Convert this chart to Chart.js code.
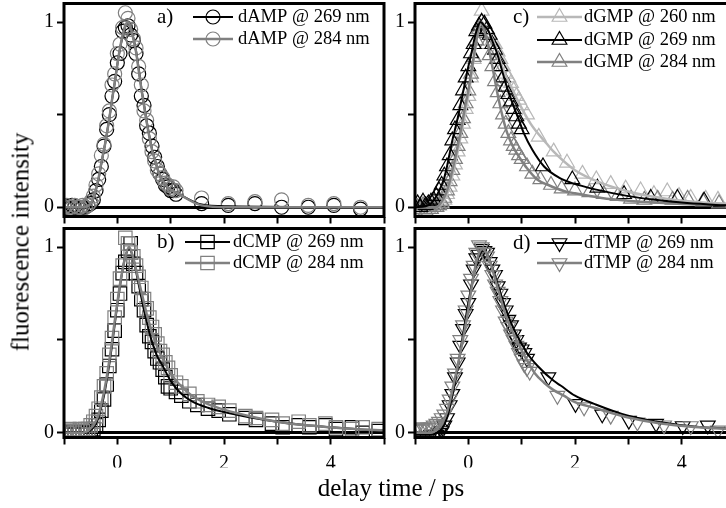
<!DOCTYPE html>
<html>
<head>
<meta charset="utf-8">
<script src="https://cdn.jsdelivr.net/npm/chart.js@4.4.0/dist/chart.umd.min.js"></script>
<style>
html, body { margin: 0; padding: 0; background: #fff; }
#wrap { position: relative; width: 726px; height: 508px; overflow: hidden; font-family: 'Liberation Serif', 'Times New Roman', serif; }
#wrap canvas { position: absolute; left: 0; top: 0; }
.titulo { position: absolute; font-size: 25px; line-height: 25px; color: #000; white-space: nowrap; }
#tituloX { left: 391px; top: 475px; transform: translateX(-50%); }
#tituloY { left: 20px; top: 242px; transform: translate(-50%, -50%) rotate(-90deg); }
</style>
</head>
<body>
<div id="wrap">
  <canvas id="panelA" width="760" height="508"></canvas>
  <canvas id="panelB" width="760" height="508"></canvas>
  <canvas id="panelC" width="760" height="508"></canvas>
  <canvas id="panelD" width="760" height="508"></canvas>
  <div class="titulo" id="tituloX">delay time / ps</div>
  <div class="titulo" id="tituloY">fluorescence intensity</div>
</div>
<script>
//EJES
const xTicks = [-1, 0, 1, 2, 3, 4, 5]
const xLabels = [0, 2, 4]
const yTicks = [0, 0.5, 1]
const yLabels = [0, 1]

//PANEL A - dAMP
const tA = [-1.0, -0.95, -0.9, -0.85, -0.8, -0.75, -0.7, -0.65, -0.6, -0.55, -0.5, -0.45, -0.4, -0.35, -0.3, -0.25, -0.2, -0.15, -0.1, -0.05, 0, 0.05, 0.1, 0.15, 0.2, 0.25, 0.3, 0.35, 0.4, 0.45, 0.5, 0.55, 0.6, 0.65, 0.7, 0.75, 0.8, 0.85, 0.9, 0.95, 1.0, 1.05, 1.1, 1.58, 2.08, 2.58, 3.08, 3.58, 4.06, 4.56]
const dAMP269 = [0.01, 0, -0.01, 0.01, 0, 0, -0.01, 0, 0, 0.01, 0.02, 0.04, 0.09, 0.15, 0.22, 0.33, 0.42, 0.5, 0.6, 0.68, 0.78, 0.83, 0.95, 0.97, 0.98, 0.93, 0.9, 0.83, 0.72, 0.6, 0.55, 0.44, 0.4, 0.33, 0.27, 0.22, 0.18, 0.15, 0.12, 0.11, 0.09, 0.09, 0.07, 0.02, 0.01, 0.02, 0, 0, 0.01, -0.01]
const dAMP284 = [0, 0.01, 0, 0, 0.01, 0, 0, 0.01, 0, 0.01, 0.03, 0.06, 0.12, 0.18, 0.28, 0.34, 0.44, 0.52, 0.66, 0.72, 0.83, 0.88, 0.97, 1.05, 1.02, 0.96, 0.91, 0.86, 0.76, 0.66, 0.52, 0.47, 0.37, 0.3, 0.25, 0.2, 0.18, 0.16, 0.13, 0.12, 0.1, 0.11, 0.09, 0.05, 0.02, 0.03, 0.04, 0.01, 0.02, 0]
const ajusteTA = [-1, -0.6, -0.55, -0.5, -0.45, -0.4, -0.35, -0.3, -0.25, -0.2, -0.15, -0.1, -0.05, 0, 0.05, 0.1, 0.15, 0.2, 0.25, 0.3, 0.35, 0.4, 0.45, 0.5, 0.55, 0.6, 0.65, 0.7, 0.75, 0.8, 0.85, 0.9, 0.95, 1.0, 1.1, 1.58, 2.08, 5]
const ajusteAMP269 = [0, 0, 0.004, 0.018, 0.045, 0.095, 0.155, 0.235, 0.31, 0.39, 0.48, 0.58, 0.67, 0.77, 0.855, 0.925, 0.975, 0.995, 0.97, 0.915, 0.845, 0.75, 0.645, 0.555, 0.465, 0.385, 0.315, 0.26, 0.21, 0.17, 0.145, 0.125, 0.105, 0.095, 0.08, 0.015, 0.005, 0]
const ajusteAMP284 = [0, 0, 0.005, 0.02, 0.05, 0.1, 0.16, 0.24, 0.31, 0.39, 0.48, 0.58, 0.67, 0.77, 0.86, 0.93, 0.98, 1.0, 0.97, 0.91, 0.84, 0.74, 0.64, 0.55, 0.46, 0.38, 0.31, 0.26, 0.21, 0.17, 0.145, 0.125, 0.105, 0.095, 0.08, 0.01, 0, 0]

//PANEL B - dCMP
const tB = [-1.0, -0.95, -0.9, -0.85, -0.8, -0.75, -0.7, -0.65, -0.6, -0.55, -0.5, -0.45, -0.4, -0.35, -0.3, -0.25, -0.2, -0.15, -0.1, -0.05, 0, 0.05, 0.1, 0.15, 0.2, 0.25, 0.3, 0.35, 0.4, 0.45, 0.5, 0.55, 0.6, 0.65, 0.7, 0.75, 0.8, 0.85, 0.9, 0.95, 1.0, 1.1, 1.2, 1.35, 1.5, 1.7, 1.9, 2.1, 2.4, 2.6, 2.9, 3.1, 3.4, 3.6, 3.9, 4.1, 4.4, 4.6, 4.9]
const dCMP269 = [0, -0.01, 0.01, 0, -0.01, 0, 0.01, -0.01, 0, 0, 0.01, 0.02, 0.04, 0.07, 0.12, 0.18, 0.26, 0.36, 0.45, 0.55, 0.66, 0.75, 0.86, 0.92, 0.98, 1.02, 0.91, 0.86, 0.79, 0.72, 0.66, 0.58, 0.52, 0.49, 0.44, 0.4, 0.38, 0.34, 0.3, 0.25, 0.24, 0.22, 0.2, 0.17, 0.15, 0.13, 0.12, 0.1, 0.08, 0.07, 0.05, 0.03, 0.04, 0.03, 0.04, 0.02, 0.03, 0, 0.01]
const dCMP284 = [0.01, 0, 0.02, 0.01, 0, 0.01, 0.02, 0.01, 0.02, 0.02, 0.04, 0.06, 0.09, 0.13, 0.19, 0.25, 0.32, 0.42, 0.51, 0.62, 0.72, 0.83, 0.9, 1.05, 1.02, 0.97, 0.95, 0.9, 0.84, 0.78, 0.72, 0.67, 0.62, 0.57, 0.53, 0.48, 0.44, 0.42, 0.38, 0.35, 0.31, 0.27, 0.25, 0.21, 0.17, 0.15, 0.14, 0.12, 0.09, 0.08, 0.07, 0.05, 0.06, 0.04, 0.05, 0.03, 0.02, 0.03, 0.02]
const ajusteTB = [-1, -0.65, -0.6, -0.55, -0.5, -0.45, -0.4, -0.35, -0.3, -0.25, -0.2, -0.15, -0.1, -0.05, 0, 0.05, 0.1, 0.15, 0.22, 0.3, 0.35, 0.4, 0.45, 0.5, 0.55, 0.6, 0.65, 0.7, 0.75, 0.8, 0.85, 1.0, 1.2, 1.4, 1.7, 2.0, 2.5, 3, 3.5, 4, 4.5, 5]
const ajusteCMP269 = [0, 0, 0.002, 0.006, 0.015, 0.03, 0.05, 0.085, 0.14, 0.2, 0.28, 0.37, 0.47, 0.58, 0.69, 0.79, 0.88, 0.95, 0.99, 0.94, 0.87, 0.8, 0.73, 0.66, 0.6, 0.54, 0.49, 0.45, 0.41, 0.385, 0.36, 0.28, 0.21, 0.17, 0.135, 0.112, 0.083, 0.06, 0.042, 0.03, 0.02, 0.013]
const ajusteCMP284 = [0, 0, 0.005, 0.01, 0.025, 0.04, 0.065, 0.1, 0.155, 0.22, 0.3, 0.39, 0.49, 0.6, 0.7, 0.8, 0.88, 0.95, 1.0, 0.94, 0.88, 0.82, 0.76, 0.7, 0.64, 0.59, 0.54, 0.5, 0.46, 0.43, 0.4, 0.32, 0.25, 0.2, 0.155, 0.125, 0.088, 0.06, 0.042, 0.03, 0.02, 0.014]

//PANEL C - dGMP
const tC260 = [-1.0, -0.95, -0.9, -0.85, -0.8, -0.75, -0.7, -0.65, -0.6, -0.55, -0.5, -0.45, -0.4, -0.35, -0.3, -0.25, -0.2, -0.15, -0.1, -0.05, 0, 0.05, 0.1, 0.15, 0.2, 0.25, 0.3, 0.35, 0.4, 0.45, 0.5, 0.55, 0.6, 0.65, 0.7, 0.75, 0.8, 0.85, 0.9, 0.95, 1.0, 1.1, 1.32, 1.6, 1.85, 2.14, 2.4, 2.67, 2.95, 3.23, 3.48, 3.73, 3.95, 4.17, 4.45, 4.68]
const dGMP260 = [0, -0.01, 0.01, 0, 0.01, -0.01, 0, 0.01, 0, 0.01, 0.02, 0.04, 0.07, 0.11, 0.17, 0.23, 0.3, 0.37, 0.45, 0.53, 0.6, 0.7, 0.8, 0.9, 0.97, 1.06, 0.99, 0.96, 0.93, 0.9, 0.88, 0.84, 0.8, 0.76, 0.72, 0.7, 0.67, 0.63, 0.6, 0.58, 0.55, 0.5, 0.38, 0.3, 0.24, 0.18, 0.15, 0.125, 0.1, 0.09, 0.07, 0.085, 0.06, 0.05, 0.045, 0.04]
const tC269 = [-1.0, -0.95, -0.9, -0.85, -0.8, -0.75, -0.7, -0.65, -0.6, -0.55, -0.5, -0.45, -0.4, -0.35, -0.3, -0.25, -0.2, -0.15, -0.1, -0.05, 0, 0.05, 0.1, 0.15, 0.2, 0.25, 0.3, 0.35, 0.4, 0.45, 0.5, 0.55, 0.6, 0.65, 0.7, 0.75, 0.8, 0.85, 0.9, 0.95, 1.0, 1.4, 1.95, 2.42, 2.92, 3.42, 3.92, 4.42]
const dGMP269 = [0, 0.02, 0, 0.03, 0.01, 0.02, 0.03, 0.04, 0.06, 0.09, 0.12, 0.17, 0.22, 0.28, 0.36, 0.42, 0.47, 0.55, 0.63, 0.7, 0.76, 0.83, 0.88, 0.95, 0.98, 1.0, 0.99, 0.96, 0.93, 0.88, 0.85, 0.8, 0.76, 0.7, 0.65, 0.61, 0.57, 0.53, 0.49, 0.45, 0.42, 0.22, 0.15, 0.105, 0.07, 0.05, 0.05, 0.035]
const tC284 = [-1.0, -0.95, -0.9, -0.85, -0.8, -0.75, -0.7, -0.65, -0.6, -0.55, -0.5, -0.45, -0.4, -0.35, -0.3, -0.25, -0.2, -0.15, -0.1, -0.05, 0, 0.05, 0.1, 0.15, 0.2, 0.25, 0.3, 0.35, 0.4, 0.45, 0.5, 0.55, 0.6, 0.65, 0.7, 0.75, 0.8, 0.85, 0.9, 0.95, 1.0, 1.1, 1.2, 1.35, 1.55, 1.75, 2.0, 2.27, 2.54, 2.8, 3.05, 3.3, 3.55, 3.83, 4.11, 4.4, 4.7]
const dGMP284 = [-0.02, 0, -0.01, 0.01, -0.02, 0, -0.01, 0, 0, 0.01, 0.03, 0.05, 0.09, 0.14, 0.2, 0.26, 0.33, 0.4, 0.48, 0.56, 0.63, 0.72, 0.81, 0.9, 0.96, 1.0, 0.94, 0.88, 0.82, 0.76, 0.68, 0.62, 0.56, 0.5, 0.45, 0.4, 0.36, 0.33, 0.31, 0.28, 0.26, 0.22, 0.18, 0.15, 0.12, 0.1, 0.09, 0.08, 0.07, 0.06, 0.045, 0.04, 0.045, 0.04, 0.045, 0.03, 0.02]
const ajusteTC260 = [-1, -0.6, -0.5, -0.4, -0.3, -0.2, -0.1, 0, 0.1, 0.2, 0.25, 0.35, 0.48, 0.66, 0.79, 0.92, 1.17, 1.48, 1.6, 2.0, 2.5, 3.0, 3.5, 4.0, 5]
const ajusteGMP260 = [0, 0, 0.02, 0.07, 0.17, 0.3, 0.45, 0.6, 0.8, 0.97, 1.0, 0.96, 0.89, 0.74, 0.66, 0.58, 0.45, 0.34, 0.3, 0.2, 0.13, 0.085, 0.055, 0.035, 0.015]
const ajusteTC269 = [-1, -0.8, -0.7, -0.6, -0.5, -0.45, -0.4, -0.35, -0.3, -0.25, -0.2, -0.15, -0.1, -0.05, 0, 0.05, 0.1, 0.15, 0.23, 0.3, 0.38, 0.46, 0.54, 0.62, 0.7, 0.78, 0.85, 0.95, 1.04, 1.2, 1.42, 1.7, 1.95, 2.4, 3, 3.5, 4, 4.5, 5]
const ajusteGMP269 = [0, 0.005, 0.02, 0.06, 0.12, 0.16, 0.22, 0.29, 0.36, 0.42, 0.48, 0.55, 0.62, 0.69, 0.76, 0.82, 0.89, 0.95, 1.0, 0.98, 0.95, 0.89, 0.83, 0.75, 0.67, 0.6, 0.545, 0.47, 0.4, 0.31, 0.22, 0.16, 0.13, 0.095, 0.06, 0.04, 0.025, 0.015, 0.008]
const ajusteTC284 = [-1, -0.6, -0.55, -0.5, -0.45, -0.4, -0.35, -0.3, -0.25, -0.2, -0.15, -0.1, -0.05, 0, 0.05, 0.1, 0.15, 0.23, 0.3, 0.35, 0.45, 0.57, 0.65, 0.73, 0.85, 0.98, 1.1, 1.29, 1.5, 1.79, 2, 2.5, 3, 3.5, 4, 5]
const ajusteGMP284 = [0, 0, 0.01, 0.03, 0.055, 0.09, 0.14, 0.2, 0.26, 0.33, 0.4, 0.48, 0.56, 0.63, 0.72, 0.81, 0.9, 1.0, 0.95, 0.9, 0.76, 0.58, 0.48, 0.4, 0.32, 0.26, 0.21, 0.15, 0.12, 0.088, 0.075, 0.05, 0.035, 0.025, 0.018, 0.01]

//PANEL D - dTMP
const tD269 = [-1.0, -0.95, -0.9, -0.85, -0.8, -0.75, -0.7, -0.65, -0.6, -0.55, -0.5, -0.45, -0.4, -0.35, -0.3, -0.25, -0.2, -0.15, -0.1, -0.05, 0, 0.05, 0.1, 0.15, 0.2, 0.25, 0.3, 0.35, 0.4, 0.45, 0.5, 0.55, 0.6, 0.65, 0.7, 0.75, 0.8, 0.85, 0.9, 0.95, 1.0, 1.05, 1.1, 1.5, 2.01, 2.51, 3.01, 3.52, 4.02, 4.49]
const dTMP269 = [-0.02, -0.03, -0.02, -0.03, -0.02, -0.02, -0.01, -0.02, -0.01, 0, 0.01, 0.04, 0.08, 0.15, 0.21, 0.3, 0.38, 0.47, 0.56, 0.64, 0.7, 0.8, 0.88, 0.94, 0.96, 0.99, 0.98, 0.97, 0.92, 0.88, 0.85, 0.79, 0.75, 0.7, 0.66, 0.61, 0.58, 0.53, 0.5, 0.46, 0.45, 0.43, 0.4, 0.3, 0.156, 0.1, 0.066, 0.05, 0.037, 0.04]
const tD284 = [-1.0, -0.95, -0.9, -0.85, -0.8, -0.75, -0.7, -0.65, -0.6, -0.55, -0.5, -0.45, -0.4, -0.35, -0.3, -0.25, -0.2, -0.15, -0.1, -0.05, 0, 0.05, 0.1, 0.15, 0.2, 0.25, 0.3, 0.35, 0.4, 0.45, 0.5, 0.55, 0.6, 0.65, 0.7, 0.75, 0.8, 0.85, 0.9, 0.95, 1.0, 1.05, 1.1, 1.15, 1.67, 2.17, 2.67, 3.17, 3.67, 4.17, 4.68]
const dTMP284 = [0.02, 0.03, 0.02, 0.03, 0.02, 0.03, 0.03, 0.04, 0.05, 0.06, 0.08, 0.1, 0.13, 0.18, 0.25, 0.32, 0.4, 0.5, 0.58, 0.66, 0.74, 0.83, 0.9, 0.97, 1.01, 1.0, 0.97, 0.95, 0.9, 0.85, 0.8, 0.76, 0.71, 0.66, 0.6, 0.57, 0.53, 0.5, 0.47, 0.43, 0.4, 0.37, 0.35, 0.33, 0.2, 0.138, 0.093, 0.057, 0.041, 0.037, 0.013]
const ajusteTD269 = [-1, -0.7, -0.6, -0.5, -0.4, -0.3, -0.2, -0.1, 0, 0.1, 0.2, 0.27, 0.35, 0.45, 0.55, 0.65, 0.75, 0.85, 1.0, 1.1, 1.3, 1.6, 1.73, 2.0, 2.36, 2.98, 3.61, 4.23, 5]
const ajusteTMP269 = [-0.01, -0.01, 0, 0.02, 0.08, 0.2, 0.35, 0.53, 0.7, 0.85, 0.95, 0.98, 0.96, 0.89, 0.8, 0.71, 0.63, 0.56, 0.48, 0.43, 0.36, 0.28, 0.255, 0.2, 0.156, 0.093, 0.057, 0.034, 0.02]
const ajusteTD284 = [-1, -0.7, -0.6, -0.53, -0.4, -0.28, -0.15, -0.02, 0.1, 0.18, 0.26, 0.33, 0.41, 0.49, 0.57, 0.65, 0.73, 0.82, 0.92, 1.1, 1.25, 1.42, 1.6, 1.79, 2.0, 2.36, 2.98, 3.61, 4.23, 5]
const ajusteTMP284 = [0, 0, 0.015, 0.04, 0.11, 0.255, 0.43, 0.63, 0.85, 0.95, 0.99, 0.97, 0.92, 0.84, 0.76, 0.68, 0.61, 0.55, 0.49, 0.39, 0.32, 0.27, 0.23, 0.2, 0.165, 0.135, 0.084, 0.05, 0.032, 0.02]

//COLORES
const negro = '#000000'
const gris = '#808080'
const grisClaro = '#b8b8b8'

Chart.defaults.font.family = "'Liberation Serif', 'Times New Roman', serif"
Chart.defaults.color = '#000'

function puntos(t, y) {
    return t.map((x, i) => ({ x: x, y: y[i] }))
}

//DIBUJA CAJA, LETRA Y LEYENDA
const decoracion = {
    id: 'decoracion',
    afterDatasetsDraw(chart, args, opts) {
        const ctx = chart.ctx
        const a = chart.chartArea
        ctx.save()
        ctx.lineWidth = 3
        ctx.strokeStyle = '#000'
        ctx.strokeRect(a.left, a.top, a.right - a.left, a.bottom - a.top)

        ctx.textBaseline = 'middle'
        ctx.textAlign = 'left'
        ctx.fillStyle = '#000'
        ctx.font = "21px 'Liberation Serif', serif"
        ctx.fillText(opts.letra, opts.letraX, opts.filas[0])

        ctx.font = "18.5px 'Liberation Serif', serif"
        opts.series.forEach((s, i) => {
            const y = opts.filas[i]
            ctx.lineWidth = s.ancho
            ctx.strokeStyle = s.color
            ctx.beginPath()
            ctx.moveTo(opts.x0, y)
            ctx.lineTo(opts.x1, y)
            ctx.stroke()
            ctx.lineWidth = 1.2
            ctx.fillStyle = 'rgba(0,0,0,0)'
            Chart.helpers.drawPoint(ctx, { pointStyle: s.estilo, rotation: s.rotacion, radius: s.radio, borderWidth: 1.2 }, (opts.x0 + opts.x1) / 2, y)
            ctx.fillStyle = '#000'
            ctx.fillText(s.label, opts.tx, y)
        })
        ctx.restore()
    }
}

function crearPanel(id, panel) {
    const datasets = []
    panel.series.forEach((s) => {
        datasets.push({
            label: s.label + ' ajuste',
            data: puntos(s.ajusteT, s.ajusteY),
            showLine: true,
            pointRadius: 0,
            borderColor: s.color,
            borderWidth: s.ancho,
            cubicInterpolationMode: 'monotone',
            order: s.capa
        })
        datasets.push({
            label: s.label,
            data: puntos(s.t, s.y),
            showLine: false,
            pointStyle: s.estilo,
            rotation: s.rotacion,
            pointRadius: s.radio,
            pointBorderColor: s.color,
            pointBackgroundColor: 'rgba(0,0,0,0)',
            pointBorderWidth: 1.2,
            order: 10 + s.capa
        })
    })

    const config = {
        type: 'scatter',
        data: { datasets: datasets },
        options: {
            responsive: false,
            animation: false,
            devicePixelRatio: 1,
            events: [],
            layout: {
                autoPadding: false,
                padding: {
                    left: panel.izq - 30,
                    right: 760 - panel.der,
                    top: panel.arriba,
                    bottom: 508 - panel.abajo - 30
                }
            },
            scales: {
                x: {
                    type: 'linear',
                    min: -1,
                    max: 5,
                    afterBuildTicks: (s) => { s.ticks = xTicks.map(v => ({ value: v })) },
                    afterFit: (s) => { s.height = 30; s.paddingLeft = 0; s.paddingRight = 0 },
                    ticks: {
                        autoSkip: false,
                        maxRotation: 0,
                        padding: 7,
                        font: { size: 20 },
                        callback: (v) => (panel.etiquetasX && xLabels.includes(v)) ? String(v) : ''
                    },
                    grid: { drawOnChartArea: false, tickLength: 7, tickWidth: 2, tickColor: '#000' },
                    border: { display: false }
                },
                y: {
                    type: 'linear',
                    min: panel.yMin,
                    max: 1.1,
                    afterBuildTicks: (s) => { s.ticks = yTicks.map(v => ({ value: v })) },
                    afterFit: (s) => { s.width = 30; s.paddingTop = 0; s.paddingBottom = 0 },
                    ticks: {
                        padding: 3,
                        font: { size: 20 },
                        callback: (v) => yLabels.includes(v) ? String(v) : ''
                    },
                    grid: {
                        color: (c) => (c.tick && c.tick.value === 0) ? '#000' : 'rgba(0,0,0,0)',
                        lineWidth: (c) => (c.tick && c.tick.value === 0) ? 3 : 1,
                        tickLength: 7,
                        tickWidth: 2,
                        tickColor: '#000'
                    },
                    border: { display: false }
                }
            },
            plugins: {
                legend: { display: false },
                tooltip: { enabled: false },
                decoracion: panel.leyenda
            }
        },
        plugins: [decoracion]
    }
    return new Chart(document.getElementById(id), config)
}

const circulo = { estilo: 'circle', rotacion: 0, radio: 7 }
const cuadro = { estilo: 'rect', rotacion: 0, radio: 9.5 }
const triArriba = { estilo: 'triangle', rotacion: 0, radio: 8.5 }
const triAbajo = { estilo: 'triangle', rotacion: 180, radio: 8.5 }

const serieAMP269 = { label: 'dAMP @ 269 nm', t: tA, y: dAMP269, ajusteT: ajusteTA, ajusteY: ajusteAMP269, color: negro, ancho: 2, capa: 1, ...circulo }
const serieAMP284 = { label: 'dAMP @ 284 nm', t: tA, y: dAMP284, ajusteT: ajusteTA, ajusteY: ajusteAMP284, color: gris, ancho: 2.5, capa: 0, ...circulo }
const serieCMP269 = { label: 'dCMP @ 269 nm', t: tB, y: dCMP269, ajusteT: ajusteTB, ajusteY: ajusteCMP269, color: negro, ancho: 2, capa: 1, ...cuadro }
const serieCMP284 = { label: 'dCMP @ 284 nm', t: tB, y: dCMP284, ajusteT: ajusteTB, ajusteY: ajusteCMP284, color: gris, ancho: 2.5, capa: 0, ...cuadro }
const serieGMP260 = { label: 'dGMP @ 260 nm', t: tC260, y: dGMP260, ajusteT: ajusteTC260, ajusteY: ajusteGMP260, color: grisClaro, ancho: 2.5, capa: 2, ...triArriba }
const serieGMP269 = { label: 'dGMP @ 269 nm', t: tC269, y: dGMP269, ajusteT: ajusteTC269, ajusteY: ajusteGMP269, color: negro, ancho: 2, capa: 0, ...triArriba }
const serieGMP284 = { label: 'dGMP @ 284 nm', t: tC284, y: dGMP284, ajusteT: ajusteTC284, ajusteY: ajusteGMP284, color: gris, ancho: 2.5, capa: 1, ...triArriba }
const serieTMP269 = { label: 'dTMP @ 269 nm', t: tD269, y: dTMP269, ajusteT: ajusteTD269, ajusteY: ajusteTMP269, color: negro, ancho: 2, capa: 1, ...triAbajo }
const serieTMP284 = { label: 'dTMP @ 284 nm', t: tD284, y: dTMP284, ajusteT: ajusteTD284, ajusteY: ajusteTMP284, color: gris, ancho: 2.5, capa: 0, ...triAbajo }

crearPanel('panelA', {
    izq: 64, der: 384, arriba: 3.5, abajo: 216.5, yMin: -0.05, etiquetasX: false,
    series: [serieAMP269, serieAMP284],
    leyenda: { letra: 'a)', letraX: 157, x0: 193, x1: 233, tx: 238, filas: [17, 39], series: [serieAMP269, serieAMP284] }
})
crearPanel('panelB', {
    izq: 64, der: 384, arriba: 228.5, abajo: 437.5, yMin: -0.025, etiquetasX: true,
    series: [serieCMP269, serieCMP284],
    leyenda: { letra: 'b)', letraX: 157, x0: 185, x1: 230, tx: 233, filas: [242, 263], series: [serieCMP269, serieCMP284] }
})
crearPanel('panelC', {
    izq: 415, der: 735, arriba: 3.5, abajo: 216.5, yMin: -0.05, etiquetasX: false,
    series: [serieGMP260, serieGMP269, serieGMP284],
    leyenda: { letra: 'c)', letraX: 513, x0: 537, x1: 582, tx: 584, filas: [17, 40, 62], series: [serieGMP260, serieGMP269, serieGMP284] }
})
crearPanel('panelD', {
    izq: 415, der: 735, arriba: 228.5, abajo: 437.5, yMin: -0.025, etiquetasX: true,
    series: [serieTMP269, serieTMP284],
    leyenda: { letra: 'd)', letraX: 513, x0: 537, x1: 582, tx: 584, filas: [243, 263], series: [serieTMP269, serieTMP284] }
})
</script>
</body>
</html>
